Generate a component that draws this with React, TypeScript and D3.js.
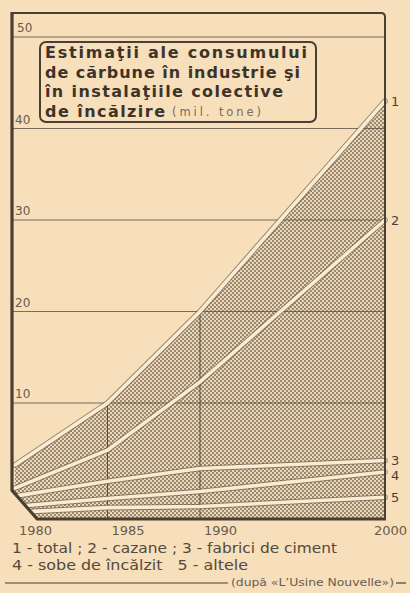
import * as d3 from 'd3';

// estimates, million tonnes
const years = [1980, 1985, 1990, 2000];
const total = [4.6, 10, 20, 43];
const cazane = [0.7, 2.7, 8.0, 25.0];
const ciment = [0.9, 1.5, 2.0, 1.0];
const sobe = [0.5, 0.8, 1.3, 2.2];
const altele = [0.5, 0.9, 1.0, 1.8];

const yTicks = [10, 20, 30, 40, 50];
const layerKeys = ['altele', 'sobe', 'ciment', 'cazane', 'rest'];
const layerNumbers = ['5', '4', '3', '2', '1'];

const titleLines = ['Estimaţii ale consumului', 'de cărbune în industrie şi', 'în instalaţiile colective'];
const titleLast = 'de încălzire';
const unitText = '(mil. tone)';
const legendLines = ['1 - total ; 2 - cazane ; 3 - fabrici de ciment', '4 - sobe de încălzit\u00A0\u00A0 5 - altele'];
const sourceText = '(după «L\u2019Usine Nouvelle»)';

const W = 410;
const H = 593;
const bg = '#f6dfba';
const ink = '#4a3f35';
const soft = '#685b4e';

export default function App() {
  const x = d3.scaleLinear().domain([1980, 2000]).range([15, 385]);
  // the printed grid is evenly spaced from 10 up, the floor sits lower
  const y = d3.scaleLinear().domain([0, 10, 50]).range([518, 403, 37]);

  const rows = years.map((year, i) => ({
    year,
    altele: altele[i],
    sobe: sobe[i],
    ciment: ciment[i],
    cazane: cazane[i],
    rest: total[i] - altele[i] - sobe[i] - ciment[i] - cazane[i],
  }));
  const series = d3.stack<any>().keys(layerKeys)(rows);

  const area = d3.area<any>()
    .x(d => x(d.data.year))
    .y0(d => y(d[0]))
    .y1(d => y(d[1]));
  const edge = d3.line<any>()
    .x(d => x(d.data.year))
    .y(d => y(d[1]));

  const left = x(1980) - 3;
  const right = x(2000);
  const top = 13;
  const bottom = y(0);
  const cornerX = x(1981.2);
  const cornerY = y(2.4);
  const clip = `M${left},${top}H${right + 6}V${bottom}H${cornerX}L${left},${cornerY}Z`;

  // number labels at the right end, nudged apart from the top down
  const ends = series.map((s, i) => ({ n: layerNumbers[i], v: y(s[s.length - 1][1]) })).reverse();
  let prev = -Infinity;
  ends.forEach(e => {
    e.v = Math.max(e.v, prev + 15);
    prev = e.v;
  });

  return (
    <div style={{ position: 'absolute', left: 0, top: 0, width: W, height: H, background: bg }}>
      <svg width={W} height={H} style={{ display: 'block' }}>
        <defs>
          <pattern id="dots" width={4} height={4} patternUnits="userSpaceOnUse">
            <rect width={4} height={4} fill="#eed8b4" />
            <rect width={2} height={2} fill="#988a74" />
            <rect x={2} y={2} width={2} height={2} fill="#988a74" />
          </pattern>
          <clipPath id="plot">
            <path d={clip} />
          </clipPath>
        </defs>
        <rect width={W} height={H} fill={bg} />

        <g clipPath="url(#plot)">
          {series.map(s => (
            <path key={s.key} d={area(s) || ''} fill="url(#dots)" />
          ))}
          {yTicks.map(t => (
            <line key={t} x1={left} x2={right} y1={y(t)} y2={y(t)} stroke="#5a4f43" strokeWidth={0.8} />
          ))}
          {years.slice(1, -1).map((yr, i) => (
            <line key={yr} x1={x(yr)} x2={x(yr)} y1={bottom} y2={y(total[i + 1])} stroke="#4d4238" strokeWidth={0.9} />
          ))}
          {series.map(s => (
            <g key={s.key}>
              <path d={edge(s) || ''} fill="none" stroke="#6e6152" strokeWidth={5.6} strokeLinecap="round" opacity={0.7} />
              <path d={edge(s) || ''} fill="none" stroke="#fbecd0" strokeWidth={3.6} strokeLinecap="round" />
            </g>
          ))}
        </g>

        {/* frame */}
        <path d={`M${left},${top}H${right - 4}Q${right},${top} ${right},${top + 4}V${bottom}`} fill="none" stroke={ink} strokeWidth={2} />
        <path d={`M${left},${top - 1}V${cornerY}L${cornerX},${bottom + 1}H${right + 1}`} fill="none" stroke={ink} strokeWidth={3.2} strokeLinejoin="round" />

        {yTicks.map(t => (
          <text key={t} x={t === 50 ? 17 : 15} y={y(t) - 5} fontFamily="DejaVu Sans" fontSize={12} fill={soft}>{t}</text>
        ))}
        {years.map((yr, i) => (
          <text key={yr} x={i === years.length - 1 ? x(yr) + 22 : x(yr) + 4} y={535}
            textAnchor={i === years.length - 1 ? 'end' : 'start'}
            fontFamily="DejaVu Sans" fontSize={13} fill={soft}>{yr}</text>
        ))}
        {ends.map(e => (
          <text key={e.n} x={right + 6} y={e.v} dy="0.35em" fontFamily="DejaVu Sans" fontSize={13} fill={ink}>{e.n}</text>
        ))}

        {/* title box */}
        <rect x={40} y={42} width={276} height={80} rx={6} fill={bg} stroke={ink} strokeWidth={2} />
        {titleLines.map((t, i) => (
          <text key={t} x={45} y={58 + i * 19.7} fontFamily="DejaVu Sans" fontWeight="bold" fontSize={16} fill="#3d332a"
            textLength={[262, 255, 238][i]} lengthAdjust="spacing">{t}</text>
        ))}
        <text x={45} y={117} fontFamily="DejaVu Sans" fontWeight="bold" fontSize={16} fill="#3d332a" textLength={120} lengthAdjust="spacing">{titleLast}</text>
        <text x={172} y={116} fontFamily="DejaVu Sans" fontSize={11.5} fill="#7a6c5e" textLength={89} lengthAdjust="spacing">{unitText}</text>

        {/* legend */}
        {legendLines.map((t, i) => (
          <text key={i} x={12} y={553 + i * 17} fontFamily="DejaVu Sans" fontSize={14} fill="#54493f"
            textLength={[325, 236][i]} lengthAdjust="spacingAndGlyphs">{t}</text>
        ))}
        <line x1={5} x2={228} y1={583} y2={583} stroke={ink} strokeWidth={1.2} />
        <text x={231} y={586} fontFamily="DejaVu Sans" fontSize={10} fill="#6a5d50" textLength={163} lengthAdjust="spacingAndGlyphs">{sourceText}</text>
        <line x1={396} x2={406} y1={583} y2={583} stroke={ink} strokeWidth={1.2} />
      </svg>
    </div>
  );
}
